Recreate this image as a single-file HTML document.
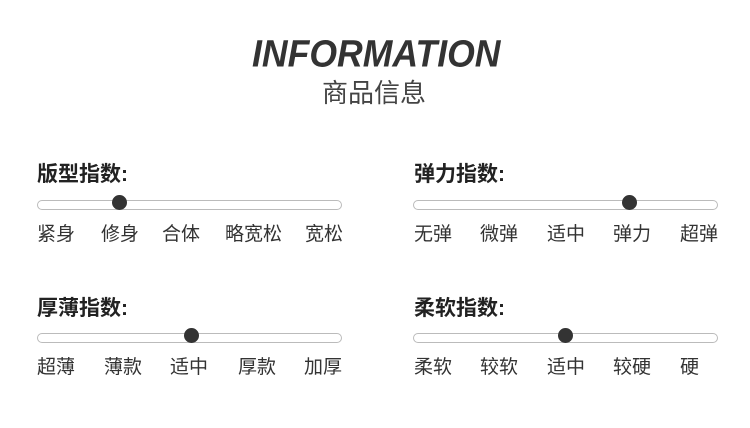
<!DOCTYPE html>
<html><head><meta charset="utf-8"><style>
body{margin:0;width:750px;height:428px;background:#fff;position:relative;overflow:hidden;font-family:"Liberation Sans","Noto Sans CJK SC",sans-serif;color:#222}
.a{position:absolute;white-space:nowrap}
.t{font-size:21px;font-weight:bold;line-height:24px}
.l{font-size:19px;line-height:22px;color:#333}
.tr{position:absolute;height:8px;border:1.5px solid #bbb;border-radius:6px;background:#fff}
.k{position:absolute;width:15px;height:15px;border-radius:50%;background:#333}
</style></head><body>
<div class="a" style="left:252px;top:34px;font-size:40px;font-weight:bold;font-style:italic;color:#333;line-height:42px;transform:scale(0.89,0.95);transform-origin:0 0">INFORMATION</div>
<div class="a" style="left:322px;top:78px;font-size:26px;color:#444;line-height:30px">商品信息</div>

<div class="a t" style="left:37px;top:163px">版型指数:</div>
<div class="tr" style="left:37px;top:200px;width:303px"></div>
<div class="k" style="left:112px;top:195px"></div>
<div class="a l" style="left:37px;top:224px">紧身</div>
<div class="a l" style="left:101px;top:224px">修身</div>
<div class="a l" style="left:162px;top:224px">合体</div>
<div class="a l" style="left:225px;top:224px">略宽松</div>
<div class="a l" style="left:305px;top:224px">宽松</div>

<div class="a t" style="left:414px;top:163px">弹力指数:</div>
<div class="tr" style="left:413px;top:200px;width:303px"></div>
<div class="k" style="left:622px;top:195px"></div>
<div class="a l" style="left:414px;top:224px">无弹</div>
<div class="a l" style="left:480px;top:224px">微弹</div>
<div class="a l" style="left:547px;top:224px">适中</div>
<div class="a l" style="left:613px;top:224px">弹力</div>
<div class="a l" style="left:680px;top:224px">超弹</div>

<div class="a t" style="left:37px;top:297px">厚薄指数:</div>
<div class="tr" style="left:37px;top:333px;width:303px"></div>
<div class="k" style="left:184px;top:328px"></div>
<div class="a l" style="left:37px;top:357px">超薄</div>
<div class="a l" style="left:104px;top:357px">薄款</div>
<div class="a l" style="left:170px;top:357px">适中</div>
<div class="a l" style="left:238px;top:357px">厚款</div>
<div class="a l" style="left:304px;top:357px">加厚</div>

<div class="a t" style="left:414px;top:297px">柔软指数:</div>
<div class="tr" style="left:413px;top:333px;width:303px"></div>
<div class="k" style="left:558px;top:328px"></div>
<div class="a l" style="left:414px;top:357px">柔软</div>
<div class="a l" style="left:480px;top:357px">较软</div>
<div class="a l" style="left:547px;top:357px">适中</div>
<div class="a l" style="left:613px;top:357px">较硬</div>
<div class="a l" style="left:680px;top:357px">硬</div>
</body></html>
